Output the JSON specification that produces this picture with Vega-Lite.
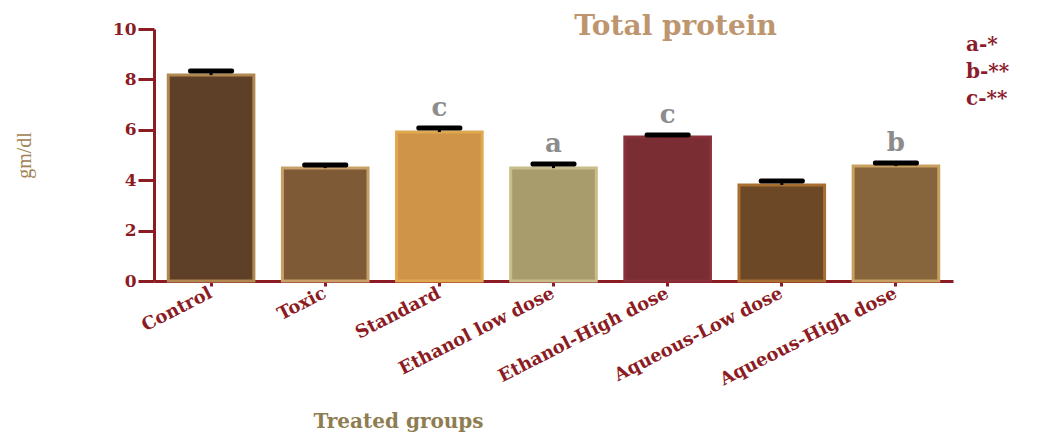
{
  "$schema": "https://vega.github.io/schema/vega-lite/v6.json",
  "width": 799,
  "height": 252,
  "autosize": {"type": "none"},
  "padding": {"left": 154, "top": 29, "right": 99, "bottom": 153},
  "background": "white",
  "title": {
    "text": "Total protein",
    "anchor": "middle",
    "dx": 122,
    "dy": 43,
    "offset": 0,
    "baseline": "alphabetic",
    "font": "DejaVu Serif",
    "fontSize": 28,
    "fontWeight": "bold",
    "color": "#bd9670"
  },
  "config": {
    "view": {"stroke": null},
    "axis": {"grid": false}
  },
  "data": {
    "values": [
      {"group": "Control", "value": 8.17, "upper": 8.33, "letter": null, "sig": null},
      {"group": "Toxic", "value": 4.48, "upper": 4.6, "letter": null, "sig": null},
      {"group": "Standard", "value": 5.91, "upper": 6.07, "letter": "c", "sig": "c-**"},
      {"group": "Ethanol low dose", "value": 4.48, "upper": 4.64, "letter": "a", "sig": "a-*"},
      {"group": "Ethanol-High dose", "value": 5.71, "upper": 5.79, "letter": "c", "sig": "c-**"},
      {"group": "Aqueous-Low dose", "value": 3.81, "upper": 3.97, "letter": null, "sig": null},
      {"group": "Aqueous-High dose", "value": 4.56, "upper": 4.68, "letter": "b", "sig": "b-**"}
    ]
  },
  "encoding": {
    "x": {
      "field": "group",
      "type": "nominal",
      "sort": null,
      "scale": {"paddingInner": 0.25, "paddingOuter": 0.125},
      "axis": {
        "title": "Treated groups",
        "titleFont": "DejaVu Serif",
        "titleFontSize": 20,
        "titleFontWeight": "bold",
        "titleColor": "#8f7d52",
        "titleX": 244,
        "titleY": 146,
        "titleBaseline": "alphabetic",
        "labelAngle": -27,
        "labelAlign": "right",
        "labelBaseline": "middle",
        "labelLimit": 400,
        "labelFont": "DejaVu Serif",
        "labelFontSize": 18,
        "labelFontWeight": "bold",
        "labelColor": "#8b1c24",
        "labelPadding": 6,
        "domainColor": "#8b1c24",
        "domainWidth": 3,
        "tickColor": "#8b1c24",
        "tickWidth": 3,
        "tickSize": 5
      }
    }
  },
  "layer": [
    {
      "mark": {"type": "bar", "strokeWidth": 3},
      "encoding": {
        "y": {
          "field": "value",
          "type": "quantitative",
          "scale": {"domain": [0, 10]},
          "axis": {
            "title": "gm/dl",
            "values": [0, 2, 4, 6, 8, 10],
            "titleFont": "Liberation Serif",
            "titleFontSize": 20,
            "titleFontWeight": "normal",
            "titleColor": "#a08150",
            "titlePadding": 78,
            "labelFont": "DejaVu Serif",
            "labelFontSize": 17,
            "labelFontWeight": "bold",
            "labelColor": "#8b1c24",
            "labelPadding": 2,
            "domainColor": "#8b1c24",
            "domainWidth": 3,
            "tickColor": "#8b1c24",
            "tickWidth": 3,
            "tickSize": 16
          }
        },
        "fill": {
          "field": "group",
          "type": "nominal",
          "sort": null,
          "scale": {
            "domain": ["Control", "Toxic", "Standard", "Ethanol low dose", "Ethanol-High dose", "Aqueous-Low dose", "Aqueous-High dose"],
            "range": ["#5e4028", "#7e5a36", "#cf9448", "#a89c6c", "#7a2e34", "#6c4826", "#86653c"]
          },
          "legend": null
        },
        "stroke": {
          "field": "group",
          "type": "nominal",
          "sort": null,
          "scale": {
            "domain": ["Control", "Toxic", "Standard", "Ethanol low dose", "Ethanol-High dose", "Aqueous-Low dose", "Aqueous-High dose"],
            "range": ["#b08850", "#c8a068", "#e0a850", "#c8bc88", "#8a3038", "#a87030", "#c8a060"]
          },
          "legend": null
        }
      }
    },
    {
      "mark": {"type": "rule", "color": "black", "strokeWidth": 3},
      "encoding": {
        "y": {"field": "value", "type": "quantitative"},
        "y2": {"field": "upper"}
      }
    },
    {
      "mark": {"type": "tick", "color": "black", "opacity": 1, "thickness": 5, "size": 46, "cornerRadius": 2},
      "encoding": {
        "y": {"field": "upper", "type": "quantitative"}
      }
    },
    {
      "transform": [{"filter": "datum.letter != null"}],
      "mark": {
        "type": "text",
        "baseline": "bottom",
        "dy": -7,
        "font": "DejaVu Serif",
        "fontSize": 26,
        "fontWeight": "bold"
      },
      "encoding": {
        "y": {"field": "upper", "type": "quantitative"},
        "text": {"field": "letter"},
        "color": {
          "field": "sig",
          "type": "nominal",
          "scale": {"domain": ["a-*", "b-**", "c-**"], "range": ["#8c8c8c", "#8c8c8c", "#8c8c8c"]},
          "legend": {
            "title": null,
            "orient": "none",
            "legendX": 792,
            "legendY": 6,
            "symbolOpacity": 0,
            "symbolSize": 1,
            "symbolStrokeWidth": 0,
            "labelOffset": 0,
            "labelFont": "DejaVu Serif",
            "labelFontSize": 20,
            "labelFontWeight": "bold",
            "labelColor": "#8b1c2c",
            "rowPadding": 7
          }
        }
      }
    }
  ]
}
